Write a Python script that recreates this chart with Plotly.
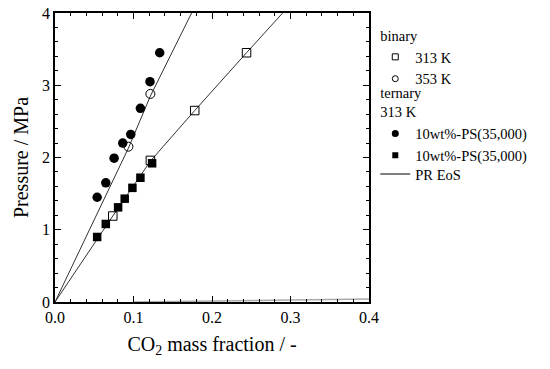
import plotly.graph_objects as go

# ternary 313 K, filled circles
tern_c_x = [0.0537, 0.0647, 0.0753, 0.0863, 0.0965, 0.1088, 0.1210, 0.1334]
tern_c_y = [1.45, 1.65, 1.99, 2.20, 2.32, 2.68, 3.05, 3.45]
# ternary 313 K, filled squares
tern_s_x = [0.0537, 0.0647, 0.0804, 0.0888, 0.0986, 0.1088, 0.1237]
tern_s_y = [0.90, 1.08, 1.31, 1.43, 1.58, 1.72, 1.92]
# binary 313 K, open squares
bin313_x = [0.0736, 0.1215, 0.178, 0.244]
bin313_y = [1.19, 1.96, 2.65, 3.45]
# binary 353 K, open circles
bin353_x = [0.0935, 0.1215]
bin353_y = [2.15, 2.88]
# PR EoS lines
pr353_x = [0.0, 0.0935, 0.1215, 0.174]
pr353_y = [0.0, 2.13, 2.85, 4.0]
pr313_x = [0.0, 0.054, 0.0736, 0.1215, 0.178, 0.244, 0.29]
pr313_y = [0.0, 0.88, 1.19, 1.95, 2.65, 3.45, 4.0]
prlow_x = [0.10, 0.25, 0.40]
prlow_y = [0.0, 0.015, 0.04]

FONT = "Liberation Serif"

fig = go.Figure()
fig.add_trace(go.Scatter(x=pr353_x, y=pr353_y, mode="lines",
                         line=dict(color="#333333", width=1), showlegend=False))
fig.add_trace(go.Scatter(x=pr313_x, y=pr313_y, mode="lines",
                         line=dict(color="#333333", width=1), showlegend=False))
fig.add_trace(go.Scatter(x=prlow_x, y=prlow_y, mode="lines",
                         line=dict(color="#aaaaaa", width=1.5), showlegend=False))

# data traces (not in legend)
fig.add_trace(go.Scatter(x=bin313_x, y=bin313_y, mode="markers", showlegend=False,
                         marker=dict(symbol="square-open", size=8.5, color="black",
                                     line=dict(width=1))))
fig.add_trace(go.Scatter(x=bin353_x, y=bin353_y, mode="markers", showlegend=False,
                         marker=dict(symbol="circle-open", size=9, color="black",
                                     line=dict(width=1))))
fig.add_trace(go.Scatter(x=tern_c_x, y=tern_c_y, mode="markers", showlegend=False,
                         marker=dict(symbol="circle", size=9.5, color="black")))
fig.add_trace(go.Scatter(x=tern_s_x, y=tern_s_y, mode="markers", showlegend=False,
                         marker=dict(symbol="square", size=8.5, color="black")))

# legend entries with small symbols
fig.add_trace(go.Scatter(x=[None], y=[None], mode="markers", name="313 K",
                         legend="legend", legendgroup="binary", legendgrouptitle_text="binary",
                         marker=dict(symbol="square-open", size=6, color="black",
                                     line=dict(width=1))))
fig.add_trace(go.Scatter(x=[None], y=[None], mode="markers", name="353 K",
                         legend="legend", legendgroup="binary",
                         marker=dict(symbol="circle-open", size=6, color="black",
                                     line=dict(width=1))))
fig.add_trace(go.Scatter(x=[None], y=[None], mode="markers", name="10wt%-PS(35,000)",
                         legend="legend2", legendgroup="ternary",
                         legendgrouptitle_text="ternary<br>313 K",
                         marker=dict(symbol="circle", size=7, color="black")))
fig.add_trace(go.Scatter(x=[None], y=[None], mode="markers", name="10wt%-PS(35,000)",
                         legend="legend2", legendgroup="ternary",
                         marker=dict(symbol="square", size=6, color="black")))
fig.add_trace(go.Scatter(x=[None], y=[None], mode="lines", name="PR EoS",
                         legend="legend3", line=dict(color="black", width=1)))

axis_common = dict(showline=True, linecolor="black", linewidth=1.5, mirror="ticks",
                   ticks="inside", ticklen=6, tickwidth=1.2, tickcolor="black",
                   showgrid=False, zeroline=False, automargin=False,
                   tickfont=dict(family=FONT, size=16, color="black"))
fig.update_xaxes(range=[0, 0.4], dtick=0.1, tickformat=".1f",
                 minor=dict(dtick=0.02, ticks="inside", ticklen=3, tickcolor="black"),
                 title=dict(text="CO<sub>2</sub> mass fraction / -",
                            font=dict(family=FONT, size=20, color="black"), standoff=12),
                 **axis_common)
fig.update_yaxes(range=[0, 4], dtick=1,
                 minor=dict(dtick=0.2, ticks="inside", ticklen=3, tickcolor="black"),
                 title=dict(text="Pressure / MPa",
                            font=dict(family=FONT, size=20, color="black"), standoff=8),
                 **axis_common)

leg_common = dict(x=1.02, xanchor="left", yanchor="top",
                  font=dict(family=FONT, size=14.5, color="black"),
                  grouptitlefont=dict(family=FONT, size=14.5, color="black"),
                  traceorder="grouped", tracegroupgap=0, itemsizing="trace",
                  bgcolor="rgba(0,0,0,0)")
fig.update_layout(
    width=550, height=369,
    font=dict(family=FONT, color="black"),
    margin=dict(l=55, r=181, t=13, b=67),
    plot_bgcolor="white", paper_bgcolor="white",
    legend=dict(y=0.979, **leg_common),
    legend2=dict(y=0.779, **leg_common),
    legend3=dict(y=0.498, **leg_common),
)
fig.write_html("out.html", config={"displayModeBar": False},
               post_script="document.body.style.margin='0';")
